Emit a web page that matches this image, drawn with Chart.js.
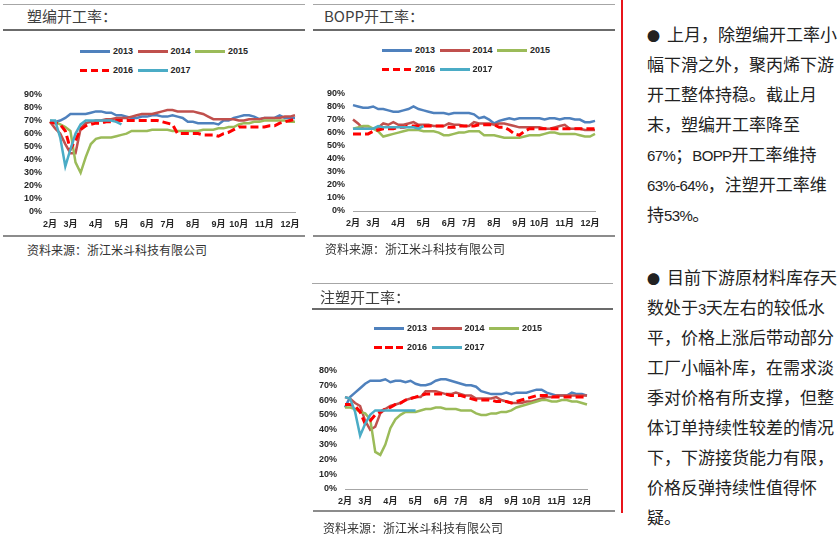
<!DOCTYPE html>
<html lang="zh-CN">
<head>
<meta charset="UTF-8">
<title>聚丙烯下游开工率</title>
<script src="https://cdn.jsdelivr.net/npm/chart.js"></script>
<style>
    body {
        margin: 0;
        width: 838px;
        height: 537px;
        position: relative;
        overflow: hidden;
        background: #fff;
        font-family: Arial, "Liberation Sans", "Noto Sans CJK SC", sans-serif;
        color: #222;
    }
    .abs { position: absolute; }
    .rule-top { height: 0; border-top: 1px solid #a6a6a6; }
    .rule-mid { height: 0; border-top: 2px solid #6b6b6b; }
    .rule-bot { height: 0; border-top: 2px solid #8c8c8c; }
    .title {
        font-family: "Noto Sans CJK SC", sans-serif;
        font-size: 15px;
        line-height: 20px;
        color: #404040;
        white-space: nowrap;
    }
    .source {
        font-family: "Noto Sans CJK SC", sans-serif;
        font-size: 12px;
        line-height: 16px;
        color: #333;
        white-space: nowrap;
    }
    .legend { width: 200px; height: 40px; }
    .legend .item { position: absolute; height: 12px; white-space: nowrap; }
    .legend .swatch { position: absolute; left: 0; top: 5px; width: 30px; height: 3px; }
    .legend .txt {
        position: absolute; left: 33px; top: 0;
        font: bold 9px Arial, "Liberation Sans", sans-serif;
        line-height: 12px; color: #262626;
    }
    canvas { position: absolute; }
    .note {
        font-family: "Noto Sans CJK SC", sans-serif;
        font-size: 17px;
        color: #222;
        white-space: nowrap;
    }
    .note div { height: 30px; line-height: 30px; }
    .note .dot { display: inline-block; width: 20px; font-size: 13px; }
    .note .lat { font-family: Arial, "Liberation Sans", sans-serif; font-size: 15px; letter-spacing: -0.6px; }
</style>
</head>
<body>

<!-- 塑编 -->
<div class="abs rule-top" style="left:3px;top:4px;width:302px"></div>
<div class="abs title" style="left:27px;top:6px">塑编开工率：</div>
<div class="abs rule-mid" style="left:3px;top:29px;width:302px"></div>
<div class="abs legend" id="legend1" style="left:80px;top:45px"></div>
<canvas id="chart1" width="305" height="151" style="left:0;top:81px"></canvas>
<div class="abs rule-bot" style="left:3px;top:235px;width:302px"></div>
<div class="abs source" style="left:27px;top:242px">资料来源：浙江米斗科技有限公司</div>

<!-- BOPP -->
<div class="abs rule-top" style="left:313px;top:4px;width:302px"></div>
<div class="abs title" style="left:324px;top:6px">BOPP开工率：</div>
<div class="abs rule-mid" style="left:313px;top:29px;width:302px"></div>
<div class="abs legend" id="legend2" style="left:382px;top:44px"></div>
<canvas id="chart2" width="302" height="151" style="left:303px;top:80px"></canvas>
<div class="abs rule-bot" style="left:313px;top:235px;width:302px"></div>
<div class="abs source" style="left:325px;top:241px">资料来源：浙江米斗科技有限公司</div>

<!-- 注塑 -->
<div class="abs rule-top" style="left:312px;top:283px;width:301px"></div>
<div class="abs title" style="left:320px;top:287px">注塑开工率：</div>
<div class="abs rule-mid" style="left:312px;top:308px;width:301px"></div>
<div class="abs legend" id="legend3" style="left:374px;top:322px"></div>
<canvas id="chart3" width="302" height="152" style="left:295px;top:357px"></canvas>
<div class="abs rule-bot" style="left:313px;top:510px;width:302px"></div>
<div class="abs source" style="left:323px;top:520px">资料来源：浙江米斗科技有限公司</div>

<!-- 右侧说明 -->
<div class="abs" style="left:621px;top:0;width:2px;height:513px;background:#e8141b"></div>
<div class="abs note" style="left:647px;top:19px">
    <div><span class="dot">●</span>上月，除塑编开工率小</div>
    <div>幅下滑之外，聚丙烯下游</div>
    <div>开工整体持稳。截止月</div>
    <div>末，塑编开工率降至</div>
    <div><span class="lat">67%</span>；<span class="lat">BOPP</span>开工率维持</div>
    <div><span class="lat">63%-64%</span>，注塑开工率维</div>
    <div>持<span class="lat">53%</span>。</div>
</div>
<div class="abs note" style="left:647px;top:262px">
    <div><span class="dot">●</span>目前下游原材料库存天</div>
    <div>数处于<span class="lat">3</span>天左右的较低水</div>
    <div>平，价格上涨后带动部分</div>
    <div>工厂小幅补库，在需求淡</div>
    <div>季对价格有所支撑，但整</div>
    <div>体订单持续性较差的情况</div>
    <div>下，下游接货能力有限，</div>
    <div>价格反弹持续性值得怀</div>
    <div>疑。</div>
</div>

<script>
    // 周度数据，2月初 ~ 12月末，每点一周
    const monthNames = ['2月', '3月', '4月', '5月', '6月', '7月', '8月', '9月', '10月', '11月', '12月'];
    const monthWeek = [0, 4, 9, 14, 19, 23, 28, 33, 37, 42, 47];
    const weekCount = 49;

    const years = ['2013', '2014', '2015', '2016', '2017'];
    const lineColors = ['#4f81bd', '#c0504d', '#9bbb59', '#ff0000', '#4bacc6'];

    // 塑编开工率 (%)
    const pw2013 = [68,69,70,72,75,75,75,75,76,77, 77,76,76,74,74,73,72,72,73,73, 74,74,73,73,74,73,72,69,69,68, 68,68,68,67,70,70,72,73,74,74, 73,71,72,72,72,74,72,72,72];
    const pw2014 = [69,64,60,52,45,45,64,68,69,70, 70,71,71,72,72,72,73,74,75,75, 75,76,77,78,78,77,77,77,77,76, 75,73,71,71,71,71,71,70,70,71, 71,71,72,72,72,72,73,73,74];
    const pw2015 = [70,69,67,65,62,38,30,42,52,56, 57,57,57,58,59,60,62,62,62,62, 63,63,63,63,62,62,62,62,62,62, 63,63,63,64,64,65,65,67,68,68, 69,69,70,70,70,70,70,69,69];
    const pw2016 = [69,68,67,62,48,55,63,66,67,68, 68,69,69,70,70,70,70,70,70,70, 70,70,69,68,67,60,60,60,60,60, 59,59,59,58,60,61,63,65,65,65, 65,65,65,66,66,68,69,70,71];
    const pw2017 = [70,70,57,35,48,60,67,70,70,70, 70,70,70,69,67];

    // BOPP开工率 (%)
    const bopp2013 = [81,80,79,79,80,78,78,77,76,76, 77,78,80,78,77,76,75,75,75,74, 75,75,75,75,74,71,72,70,67,69, 70,71,70,71,71,71,71,71,70,71, 71,70,71,71,70,70,68,68,69];
    const bopp2014 = [70,67,63,63,63,64,67,66,68,66, 66,67,68,66,66,66,65,65,65,67, 66,66,65,65,68,67,67,67,66,67, 67,66,65,64,64,64,64,64,63,63, 64,65,66,63,63,63,62,62,62];
    const bopp2015 = [63,64,65,65,63,61,57,58,59,60, 61,62,62,62,61,61,61,60,58,58, 59,60,60,61,61,61,58,58,58,57, 56,56,56,56,57,58,58,58,59,60, 60,59,59,59,59,58,57,57,59];
    const bopp2016 = [59,59,59,59,61,62,63,63,63,64, 64,65,65,65,65,65,65,65,65,64, 64,65,65,65,65,66,66,66,66,64, 64,62,59,58,61,63,63,63,63,63, 63,63,63,63,63,63,63,63,63];
    const bopp2017 = [63,63,63,63,63,65,64,64,64,64, 64,64,64,63,65];

    // 注塑开工率 (%)
    const zs2013 = [55,62,65,68,71,73,73,73,74,72, 73,73,72,73,71,70,70,71,73,74, 74,73,72,71,70,70,69,66,65,64, 64,64,65,64,65,65,65,66,67,67, 65,64,63,63,63,65,64,64,63];
    const zs2014 = [62,61,58,56,46,40,42,51,54,56, 57,58,60,61,62,62,66,66,66,65, 64,64,65,64,63,63,61,61,61,61, 62,60,59,58,58,58,59,59,60,61, 62,62,63,63,63,63,63,63,63];
    const zs2015 = [55,55,54,52,51,47,25,23,30,41, 47,50,52,52,52,53,54,54,55,55, 54,54,54,53,53,53,51,50,50,51, 51,52,52,53,55,56,57,58,59,60, 60,59,59,60,60,59,59,58,57];
    const zs2016 = [57,57,56,52,44,46,50,52,54,55, 57,58,60,61,62,63,64,64,64,64, 64,63,63,63,62,61,60,60,60,60, 59,59,59,58,59,60,61,62,63,63, 63,62,62,62,62,62,62,62,62];
    const zs2017 = [62,61,52,36,44,50,53,53,53,53, 53,53,53,53,53];

    const weekLabels = [];
    for (let i = 0; i < weekCount; i++) {
        const m = monthWeek.indexOf(i);
        weekLabels.push(m >= 0 ? monthNames[m] : '');
    }

    Chart.defaults.font.family = 'Arial, "Liberation Sans", "Noto Sans CJK SC", sans-serif';

    function makeChart(id, series, yMax) {
        return new Chart(document.getElementById(id), {
            type: 'line',
            data: {
                labels: weekLabels,
                datasets: series.map((vals, i) => ({
                    label: years[i],
                    data: vals,
                    borderColor: lineColors[i],
                    borderWidth: i === 3 ? 3 : 2.5,
                    borderDash: i === 3 ? [8, 4] : [],
                    pointRadius: 0,
                    tension: 0,
                    fill: false,
                    order: series.length - i   // later years drawn on top
                }))
            },
            options: {
                responsive: false,
                animation: false,
                layout: { padding: { top: 10, right: 10, left: 0, bottom: 0 } },
                plugins: { legend: { display: false }, tooltip: { enabled: false } },
                scales: {
                    x: {
                        grid: { display: false, drawTicks: false },
                        border: { display: true, color: '#a6a6a6', width: 1 },
                        ticks: {
                            autoSkip: false, maxRotation: 0, padding: 7,
                            color: '#262626', font: { size: 9, weight: 'bold' }
                        },
                        afterFit: s => { s.height = 20; }
                    },
                    y: {
                        min: 0, max: yMax,
                        grid: { display: false, drawTicks: false },
                        border: { display: false },
                        ticks: {
                            stepSize: 10, padding: 8, autoSkip: false,
                            callback: v => v + '%',
                            color: '#262626', font: { size: 9, weight: 'bold' }
                        },
                        afterFit: s => { s.width = 50; }
                    }
                }
            }
        });
    }

    // html legend, three items per row like the source charts
    function buildLegend(id) {
        const box = document.getElementById(id);
        years.forEach((y, i) => {
            const item = document.createElement('div');
            item.className = 'item';
            item.style.left = (i % 3) * 57.5 + 'px';
            item.style.top = Math.floor(i / 3) * 19 + 'px';
            const sw = document.createElement('div');
            sw.className = 'swatch';
            if (i === 3) {
                sw.style.background = `repeating-linear-gradient(to right, ${lineColors[i]} 0 7.5px, transparent 7.5px 11px)`;
            } else {
                sw.style.background = lineColors[i];
            }
            const t = document.createElement('div');
            t.className = 'txt';
            t.textContent = y;
            item.appendChild(sw);
            item.appendChild(t);
            box.appendChild(item);
        });
    }

    makeChart('chart1', [pw2013, pw2014, pw2015, pw2016, pw2017], 90);
    makeChart('chart2', [bopp2013, bopp2014, bopp2015, bopp2016, bopp2017], 90);
    makeChart('chart3', [zs2013, zs2014, zs2015, zs2016, zs2017], 80);
    buildLegend('legend1');
    buildLegend('legend2');
    buildLegend('legend3');
</script>
</body>
</html>
